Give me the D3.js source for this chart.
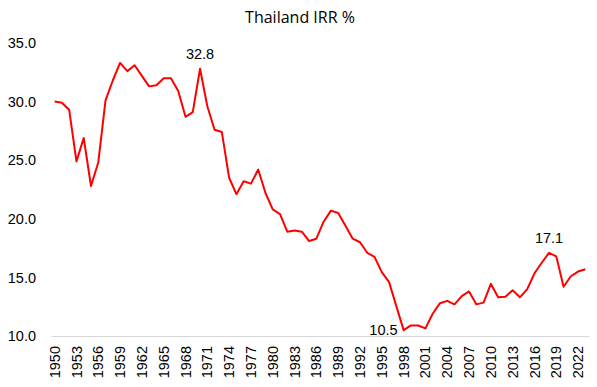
<!DOCTYPE html>
<html lang="en">
<head>
<meta charset="utf-8">
<title>Thailand IRR %</title>
<script src="https://d3js.org/d3.v7.min.js"></script>
<style>
  body { margin: 0; background: #fff; }
  .tick text { font-family: "Liberation Sans", Arial, sans-serif; font-size: 14.5px; fill: #000; }
  .title { font-family: "Open Sans", sans-serif; font-size: 16px; fill: #000; }
  .dlabel { font-family: "Liberation Sans", Arial, sans-serif; font-size: 14.5px; fill: #000; }
</style>
</head>
<body>
<div id="main"></div>
<script>
var years = d3.range(1950, 2024);
var irr = [
  30.0, 29.9, 29.3, 24.9, 26.9, 22.8, 24.8, 30.1, 31.8, 33.3,
  32.6, 33.1, 32.2, 31.3, 31.4, 32.0, 32.0, 30.9, 28.7, 29.1,
  32.8, 29.6, 27.6, 27.4, 23.5, 22.1, 23.2, 23.0, 24.2, 22.2,
  20.8, 20.4, 18.9, 19.0, 18.9, 18.1, 18.3, 19.75, 20.7, 20.5,
  19.4, 18.3, 18.0, 17.1, 16.75, 15.45, 14.6, 12.55, 10.5, 10.9,
  10.9, 10.65, 11.9, 12.8, 13.0, 12.7, 13.4, 13.8, 12.7, 12.85,
  14.45, 13.3, 13.35, 13.9, 13.3, 14.0, 15.35, 16.25, 17.1, 16.8,
  14.2, 15.1, 15.5, 15.7
];
var yTicks = [10, 15, 20, 25, 30, 35];
var labelled = [1970, 1998, 2018];

var width = 597, height = 387;
var margin = {top: 43, right: 8, bottom: 51, left: 51};

var svg = d3.select("#main").append("svg")
    .attr("width", width)
    .attr("height", height);

var x = d3.scaleBand()
    .domain(years)
    .range([margin.left, width - margin.right]);

var y = d3.scaleLinear()
    .domain([10, 35])
    .range([height - margin.bottom, margin.top]);

// title
svg.append("text")
    .attr("class", "title")
    .attr("x", 300)
    .attr("y", 23)
    .attr("text-anchor", "middle")
    .text("Thailand IRR %");

// y axis (labels only)
var yAxis = svg.append("g")
    .attr("transform", "translate(" + margin.left + ",0)")
    .call(d3.axisLeft(y).tickValues(yTicks).tickFormat(d3.format(".1f")).tickSize(0).tickPadding(15));
yAxis.select(".domain").remove();

// x axis
var xAxis = svg.append("g")
    .attr("transform", "translate(0," + (height - margin.bottom) + ")")
    .call(d3.axisBottom(x).tickValues(years.filter(function(d){ return (d - 1950) % 3 == 0; })).tickSize(0));
xAxis.select(".domain").attr("stroke", "#d9d9d9").attr("stroke-width", 1);
xAxis.selectAll("text")
    .attr("transform", "rotate(-90)")
    .attr("text-anchor", "end")
    .attr("x", -10)
    .attr("y", 0)
    .attr("dy", "0.35em");

// line
var line = d3.line()
    .x(function(d, i){ return x(years[i]) + x.bandwidth() / 2; })
    .y(function(d){ return y(d); });

svg.append("path")
    .datum(irr)
    .attr("fill", "none")
    .attr("stroke", "#ff0000")
    .attr("stroke-width", 2)
    .attr("stroke-linejoin", "round")
    .attr("d", line);

// data labels
labelled.forEach(function(yr){
    var i = years.indexOf(yr);
    var cx = x(yr) + x.bandwidth() / 2, cy = y(irr[i]);
    var t = svg.append("text").attr("class", "dlabel").text(irr[i].toFixed(1));
    if (yr == 1998) {
        t.attr("x", cx - 6).attr("y", cy + 5).attr("text-anchor", "end");
    } else {
        t.attr("x", cx).attr("y", cy - 10).attr("text-anchor", "middle");
    }
});
</script>
</body>
</html>
